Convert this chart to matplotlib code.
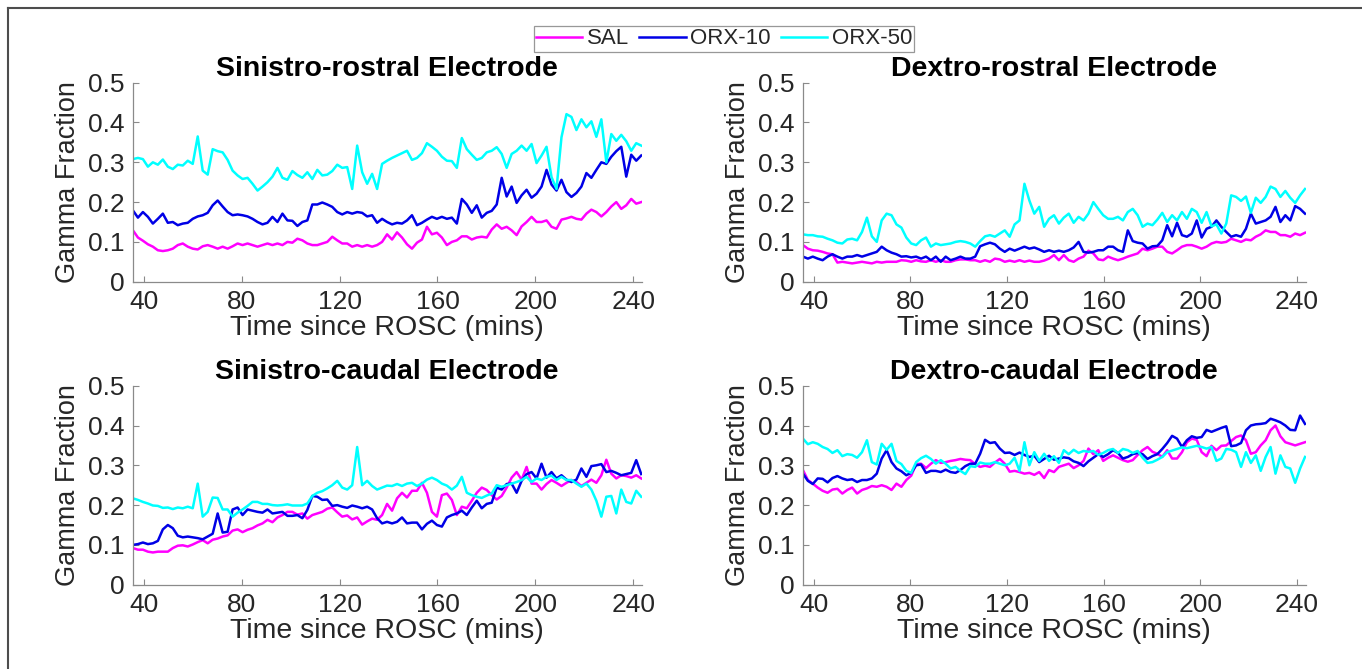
import numpy as np
import matplotlib
matplotlib.use("Agg")
import matplotlib.pyplot as plt
from matplotlib.lines import Line2D

plt.rcParams['font.family'] = ['Liberation Sans', 'DejaVu Sans']

# ---------------- data ----------------
series_names = ["SAL", "ORX-10", "ORX-50"]
series_colors = ["#ff00ff", "#0000e6", "#00ffff"]
titles = ["Sinistro-rostral Electrode", "Dextro-rostral Electrode",
          "Sinistro-caudal Electrode", "Dextro-caudal Electrode"]
xticks = [40, 80, 120, 160, 200, 240]
yticks = [0, 0.1, 0.2, 0.3, 0.4, 0.5]
ytick_labels = ["0", "0.1", "0.2", "0.3", "0.4", "0.5"]
t_start, t_end, n_pts = 35.5, 243.3, 103

# Sinistro-rostral
sr_sal = [.129,.111,.103,.094,.088,.079,.077,.079,.083,.092,
          .096,.088,.083,.081,.089,.092,.088,.083,.088,.083,
          .089,.096,.092,.096,.092,.088,.092,.096,.092,.096,
          .092,.100,.098,.108,.104,.096,.092,.092,.096,.100,
          .113,.104,.096,.096,.088,.092,.088,.092,.088,.092,
          .100,.119,.106,.124,.111,.094,.083,.098,.106,.138,
          .119,.123,.111,.092,.100,.104,.114,.114,.106,.111,
          .113,.111,.131,.144,.133,.138,.129,.117,.139,.150,
          .163,.150,.150,.154,.138,.133,.156,.159,.163,.158,
          .156,.171,.181,.175,.164,.175,.189,.200,.183,.192,
          .208,.196,.200]
sr_orx10 = [.179,.161,.175,.163,.146,.158,.171,.148,.150,.142,
            .146,.148,.158,.164,.167,.173,.192,.204,.189,.175,
            .167,.169,.167,.164,.158,.150,.144,.148,.163,.150,
            .171,.154,.153,.140,.150,.154,.194,.194,.199,.194,
            .188,.175,.169,.175,.171,.175,.173,.164,.167,.148,
            .158,.150,.144,.148,.146,.154,.167,.142,.148,.156,
            .163,.158,.163,.158,.161,.146,.208,.194,.173,.192,
            .161,.173,.178,.194,.261,.214,.239,.198,.217,.231,
            .211,.221,.239,.281,.244,.229,.256,.225,.213,.223,
            .239,.273,.261,.281,.300,.296,.314,.328,.339,.264,
            .319,.304,.317]
sr_orx50 = [.308,.311,.308,.289,.300,.294,.307,.289,.283,.294,
            .292,.304,.296,.365,.279,.269,.333,.328,.325,.306,
            .279,.267,.258,.261,.246,.229,.239,.250,.264,.286,
            .261,.256,.278,.268,.261,.275,.258,.281,.267,.269,
            .278,.294,.286,.288,.233,.342,.275,.246,.271,.233,
            .296,.304,.311,.317,.323,.329,.306,.311,.323,.348,
            .339,.329,.314,.304,.303,.286,.361,.333,.319,.306,
            .311,.325,.329,.338,.321,.286,.321,.329,.342,.329,
            .346,.298,.317,.339,.263,.233,.363,.421,.414,.381,
            .408,.388,.403,.364,.408,.300,.371,.354,.369,.353,
            .329,.348,.342]

# Dextro-rostral
dr_sal = [.092,.083,.079,.078,.075,.071,.069,.048,.050,.048,
          .046,.048,.050,.048,.046,.050,.048,.050,.050,.050,
          .054,.053,.050,.054,.051,.050,.054,.050,.054,.050,
          .050,.054,.056,.056,.054,.054,.050,.054,.050,.058,
          .056,.050,.053,.050,.054,.050,.053,.050,.050,.053,
          .058,.067,.054,.067,.054,.050,.058,.063,.078,.071,
          .056,.054,.063,.058,.054,.058,.063,.067,.071,.083,
          .079,.083,.088,.088,.075,.071,.079,.088,.092,.092,
          .088,.083,.088,.096,.100,.098,.100,.108,.104,.100,
          .106,.104,.113,.119,.129,.125,.125,.117,.117,.113,
          .121,.117,.123]
dr_orx10 = [.063,.058,.063,.058,.054,.063,.069,.063,.058,.063,
            .063,.067,.063,.067,.071,.075,.088,.079,.073,.069,
            .063,.064,.061,.063,.058,.063,.054,.063,.050,.063,
            .054,.058,.063,.058,.058,.063,.089,.094,.098,.094,
            .083,.075,.083,.078,.083,.088,.083,.086,.081,.075,
            .079,.075,.078,.075,.079,.086,.100,.075,.073,.075,
            .079,.079,.088,.088,.079,.075,.129,.102,.098,.096,
            .083,.089,.090,.104,.142,.114,.148,.117,.113,.121,
            .154,.111,.133,.138,.154,.138,.125,.113,.117,.113,
            .133,.171,.146,.150,.154,.163,.188,.150,.167,.154,
            .190,.183,.171]
dr_orx50 = [.119,.117,.117,.114,.113,.108,.104,.098,.096,.106,
            .108,.104,.125,.161,.114,.100,.154,.171,.167,.144,
            .136,.111,.096,.092,.104,.111,.088,.096,.092,.094,
            .096,.100,.102,.100,.096,.088,.102,.114,.117,.113,
            .121,.129,.113,.144,.154,.246,.204,.171,.188,.138,
            .158,.167,.146,.161,.171,.148,.163,.154,.171,.200,
            .183,.167,.158,.158,.163,.154,.175,.183,.167,.138,
            .146,.142,.156,.173,.150,.167,.154,.175,.158,.183,
            .175,.148,.175,.139,.144,.121,.146,.217,.213,.203,
            .214,.173,.211,.198,.213,.239,.233,.213,.228,.211,
            .198,.217,.233]

# Sinistro-caudal
sc_sal = [.092,.088,.088,.083,.081,.083,.083,.083,.092,.098,
          .099,.096,.101,.107,.112,.104,.113,.116,.121,.124,
          .136,.139,.132,.138,.142,.149,.154,.163,.157,.169,
          .175,.183,.183,.176,.179,.166,.175,.179,.183,.191,
          .194,.182,.171,.174,.164,.169,.151,.159,.166,.163,
          .175,.203,.186,.217,.231,.219,.236,.236,.256,.231,
          .183,.171,.225,.229,.213,.175,.196,.192,.211,.231,
          .244,.238,.225,.214,.223,.244,.269,.283,.264,.296,
          .254,.254,.239,.253,.263,.256,.248,.256,.263,.258,
          .248,.256,.264,.256,.275,.314,.279,.267,.275,.273,
          .269,.275,.267]
sc_orx10 = [.100,.102,.106,.102,.104,.110,.139,.150,.142,.123,
            .119,.121,.119,.117,.114,.121,.128,.179,.131,.133,
            .189,.194,.175,.189,.186,.183,.181,.189,.179,.181,
            .183,.173,.173,.175,.167,.188,.223,.221,.213,.214,
            .198,.200,.196,.193,.199,.196,.192,.196,.189,.167,
            .154,.158,.154,.158,.169,.154,.156,.156,.139,.153,
            .161,.150,.146,.169,.175,.179,.186,.175,.194,.211,
            .192,.203,.206,.244,.239,.253,.254,.231,.261,.278,
            .283,.267,.304,.269,.283,.267,.275,.264,.258,.264,
            .292,.271,.298,.300,.303,.283,.286,.281,.275,.278,
            .281,.313,.278]
sc_orx50 = [.217,.213,.208,.204,.199,.198,.193,.194,.190,.194,
            .192,.196,.192,.254,.171,.183,.219,.218,.189,.189,
            .171,.181,.189,.198,.208,.208,.203,.203,.200,.199,
            .200,.202,.199,.199,.199,.204,.223,.231,.235,.242,
            .250,.261,.244,.239,.250,.346,.250,.261,.248,.239,
            .244,.249,.248,.253,.248,.254,.256,.248,.254,.264,
            .269,.263,.254,.249,.239,.249,.271,.231,.225,.221,
            .218,.224,.229,.250,.246,.250,.254,.258,.263,.271,
            .258,.267,.263,.271,.274,.263,.271,.263,.263,.254,
            .246,.254,.239,.211,.171,.221,.223,.179,.239,.208,
            .204,.236,.221]

# Dextro-caudal
dc_sal = [.288,.263,.254,.244,.236,.231,.239,.241,.229,.238,
          .244,.229,.238,.242,.248,.246,.250,.246,.238,.254,
          .246,.263,.274,.303,.304,.293,.304,.313,.306,.308,
          .311,.313,.316,.314,.313,.303,.296,.299,.296,.307,
          .316,.304,.284,.286,.283,.279,.281,.276,.283,.268,
          .288,.283,.296,.300,.304,.293,.300,.311,.342,.328,
          .338,.311,.319,.325,.319,.313,.309,.313,.326,.338,
          .346,.334,.329,.321,.338,.317,.317,.333,.358,.367,
          .364,.333,.323,.349,.338,.349,.350,.361,.371,.375,
          .363,.329,.333,.350,.363,.388,.400,.373,.358,.354,
          .350,.354,.358]
dc_orx10 = [.279,.261,.253,.267,.266,.257,.268,.273,.267,.263,
            .265,.258,.263,.263,.267,.279,.317,.338,.308,.292,
            .285,.275,.281,.300,.302,.281,.286,.286,.283,.289,
            .283,.281,.288,.298,.304,.304,.329,.364,.356,.358,
            .342,.331,.332,.326,.332,.326,.321,.324,.308,.316,
            .324,.314,.317,.320,.318,.310,.306,.298,.310,.319,
            .328,.321,.328,.338,.331,.317,.321,.328,.331,.328,
            .316,.323,.328,.341,.356,.374,.367,.346,.363,.373,
            .369,.371,.389,.384,.389,.394,.398,.348,.350,.356,
            .388,.400,.403,.404,.406,.417,.413,.408,.400,.389,
            .388,.425,.404]
dc_orx50 = [.367,.353,.358,.354,.346,.341,.331,.338,.323,.328,
            .326,.319,.333,.363,.308,.302,.354,.339,.354,.311,
            .303,.286,.281,.308,.318,.324,.316,.304,.313,.304,
            .292,.296,.286,.278,.298,.296,.307,.304,.304,.308,
            .304,.300,.304,.319,.286,.358,.300,.333,.311,.329,
            .311,.323,.306,.338,.328,.339,.331,.336,.334,.336,
            .326,.331,.338,.341,.331,.341,.338,.331,.336,.319,
            .306,.308,.314,.321,.333,.337,.341,.345,.343,.346,
            .349,.346,.342,.346,.311,.317,.341,.339,.333,.296,
            .333,.306,.325,.286,.321,.346,.279,.325,.296,.292,
            .256,.292,.321]

panels = [
    (sr_sal, sr_orx10, sr_orx50),
    (dr_sal, dr_orx10, dr_orx50),
    (sc_sal, sc_orx10, sc_orx50),
    (dc_sal, dc_orx10, dc_orx50),
]

# ---------------- figure ----------------
W, H = 1362, 669
fig = plt.figure(figsize=(W / 100, H / 100), dpi=100)

def rect(x0, y0, x1, y1):
    return [x0 / W, 1 - y1 / H, (x1 - x0) / W, (y1 - y0) / H]

axes_px = [
    (132.7, 82.7, 641.7, 281.7),
    (802.7, 82.7, 1305.5, 281.7),
    (132.7, 385.7, 641.7, 584.7),
    (802.7, 385.7, 1305.5, 584.7),
]

t = np.linspace(t_start, t_end, n_pts)
spine_col = "#8a8a8a"
text_col = "#262626"

handles = []
for i, (box, data) in enumerate(zip(axes_px, panels)):
    ax = fig.add_axes(rect(*box))
    for vals, name, col in zip(data, series_names, series_colors):
        ln, = ax.plot(t, vals, color=col, lw=1.8, label=name,
                      solid_joinstyle='round')
        if i == 0:
            handles.append(ln)
    ax.set_xlim(35.4, 243.5)
    ax.set_ylim(0, 0.5)
    ax.set_xticks(xticks)
    ax.set_yticks(yticks)
    ax.set_yticklabels(ytick_labels)
    for s in ("top", "right"):
        ax.spines[s].set_visible(False)
    for s in ("left", "bottom"):
        ax.spines[s].set_color(spine_col)
        ax.spines[s].set_linewidth(0.9)
    ax.tick_params(direction="in", length=4, width=0.8, color=spine_col,
                   labelcolor=text_col, labelsize=19, pad=6)
    ax.set_title(titles[i], fontsize=20.5, fontweight="bold", color="black", pad=5)
    ax.set_xlabel("Time since ROSC (mins)", fontsize=20.5, color=text_col, labelpad=1)
    ax.set_ylabel("Gamma Fraction", fontsize=19.5, color=text_col, labelpad=5)

leg = fig.legend(handles, series_names, loc="center",
                 bbox_to_anchor=(724 / W, 1 - 39 / H), ncol=3, fontsize=16,
                 frameon=True, fancybox=False, edgecolor="#7f7f7f",
                 handlelength=2.1, handletextpad=0.2, columnspacing=0.45,
                 borderpad=0.1, borderaxespad=0)
leg.get_frame().set_linewidth(0.9)
for txt in leg.get_texts():
    txt.set_color(text_col)

# outer frame (left and top edges visible)
fig.add_artist(Line2D([8 / W, 8 / W], [0, 1 - 8 / H], transform=fig.transFigure,
                      color="#4d4d4d", lw=1.5))
fig.add_artist(Line2D([8 / W, 1], [1 - 8 / H, 1 - 8 / H], transform=fig.transFigure,
                      color="#4d4d4d", lw=1.5))

fig.savefig("out.png", dpi=100)
